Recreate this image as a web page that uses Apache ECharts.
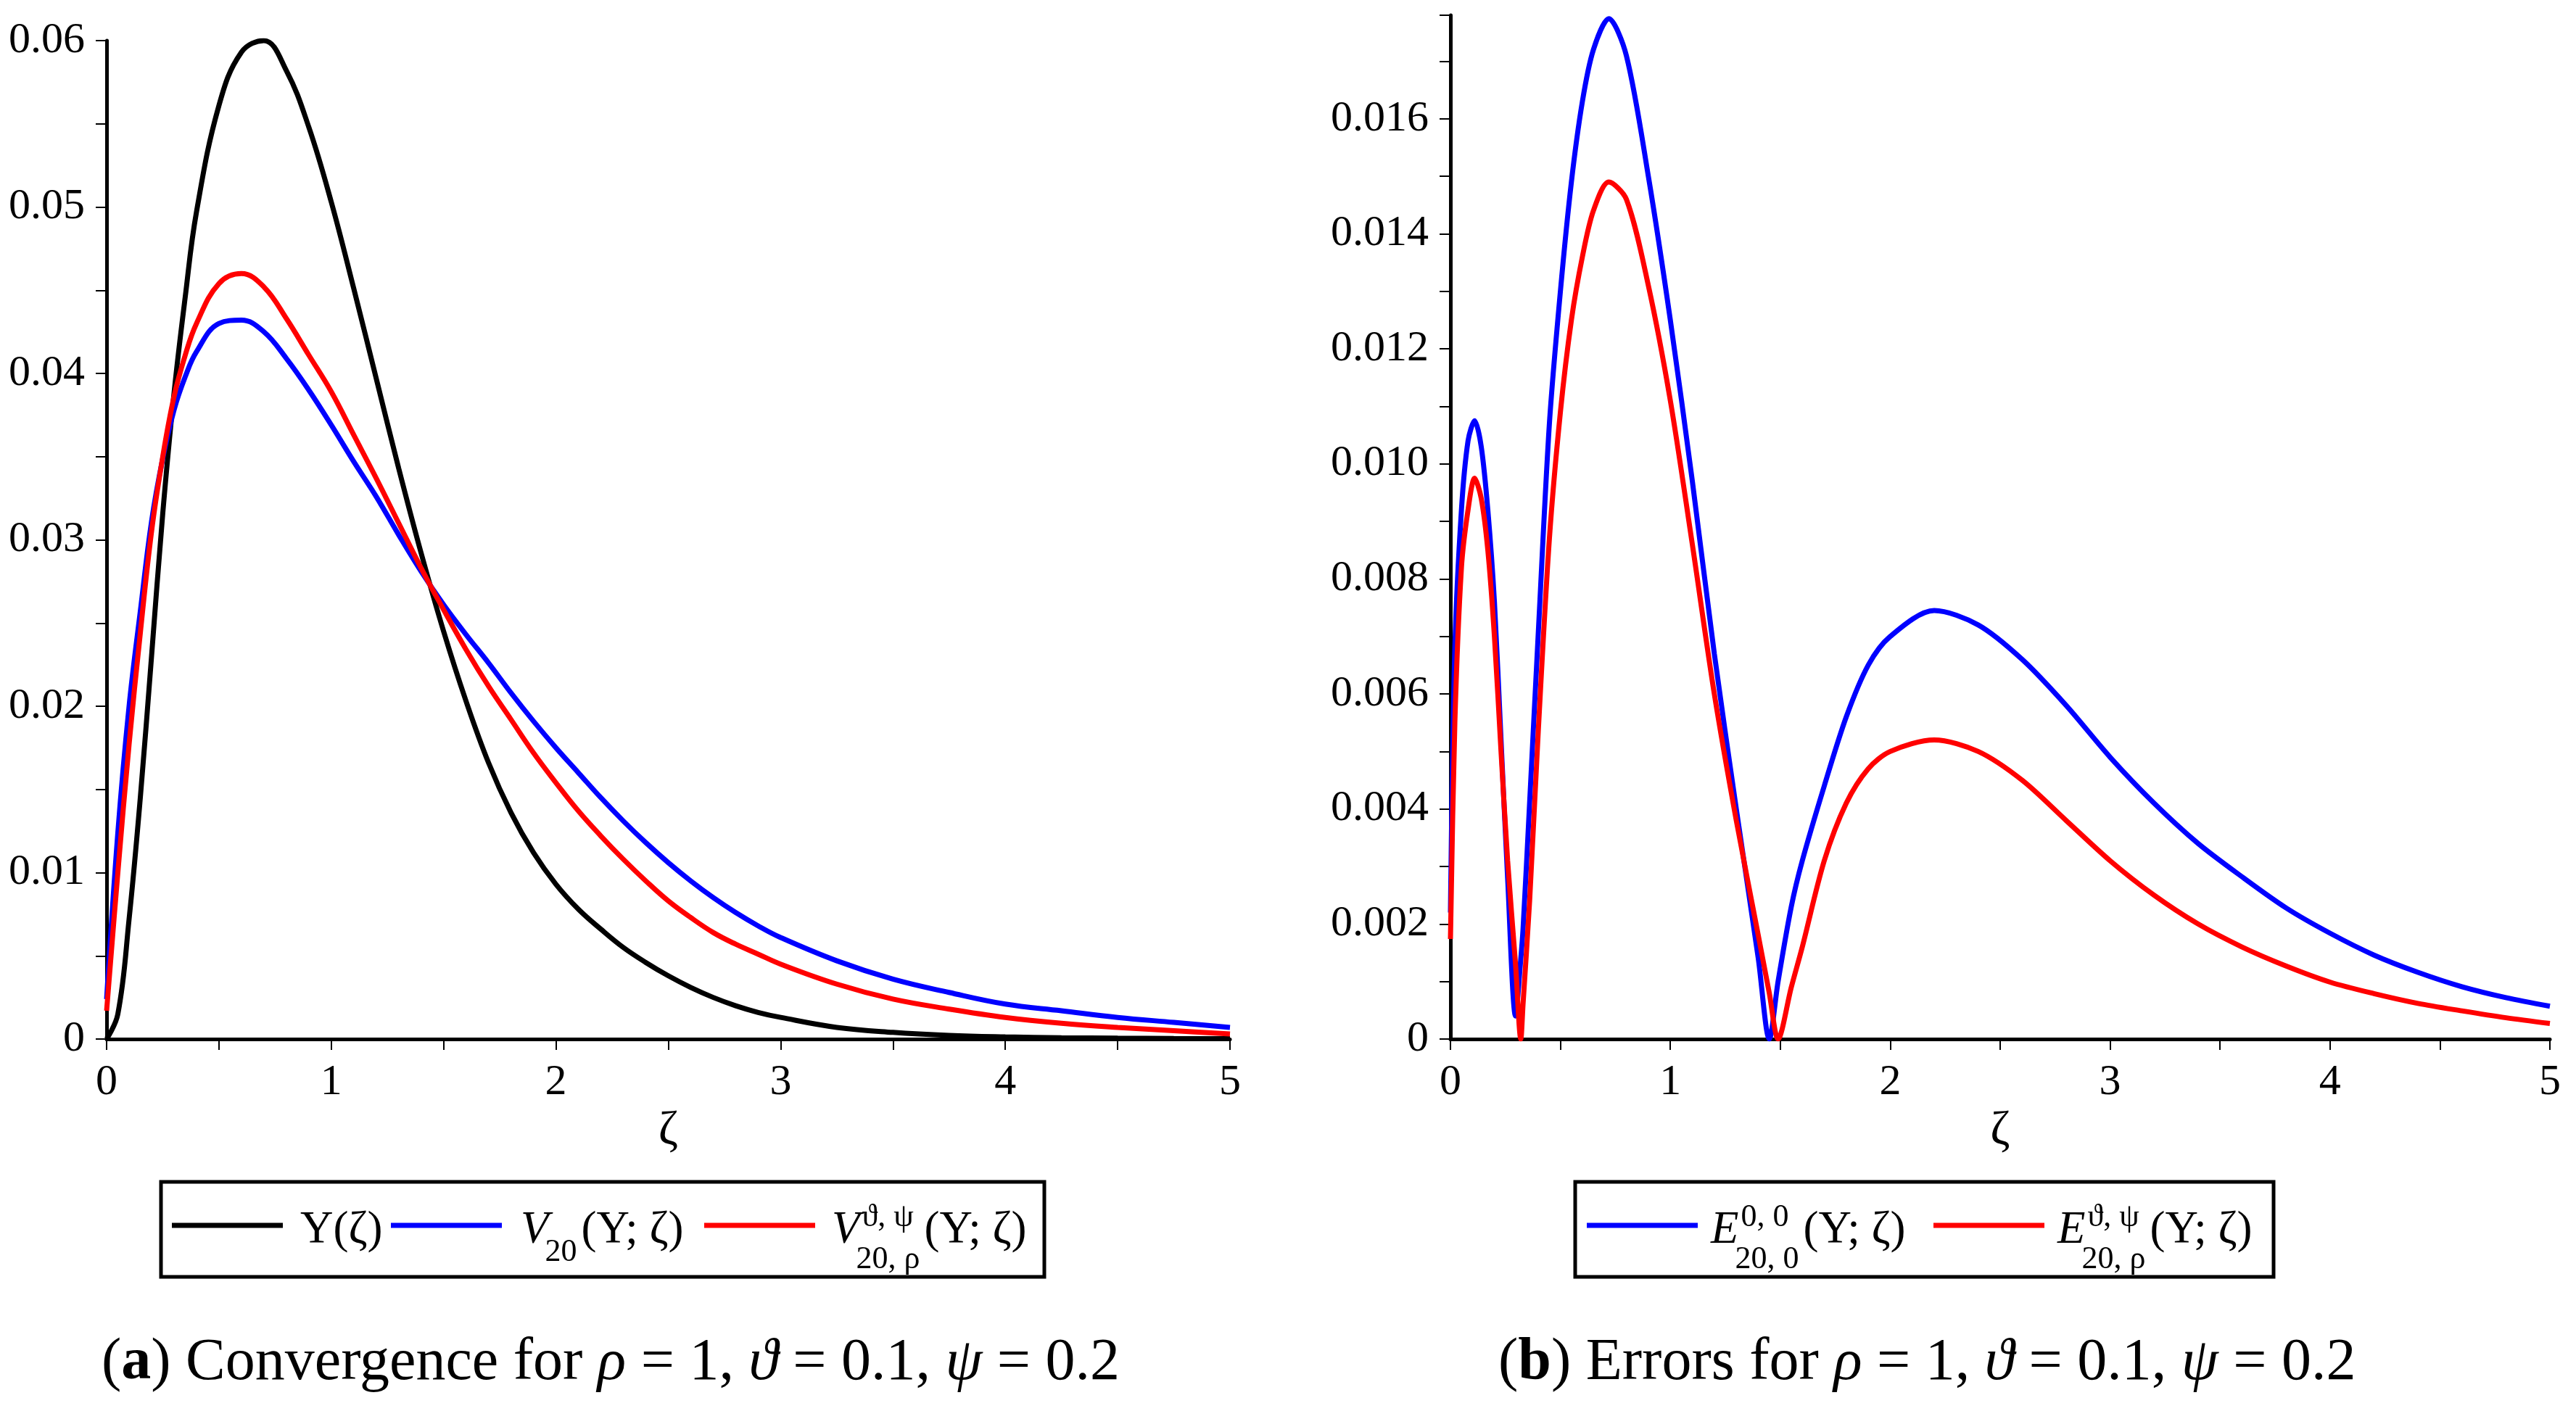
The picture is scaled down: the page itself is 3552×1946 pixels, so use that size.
<!DOCTYPE html>
<html>
<head>
<meta charset="utf-8">
<title>Convergence and errors</title>
<script src="https://cdn.jsdelivr.net/npm/echarts@6/dist/echarts.min.js"></script>
<style>
  html, body { margin: 0; padding: 0; background: #fff; }
  #main { width: 3552px; height: 1946px; }
</style>
</head>
<body>
<div id="main"></div>
<script>
// ---- data ----
// panel (a): convergence
var zetaA = [0, 0.05, 0.1, 0.15, 0.2, 0.25, 0.3, 0.35, 0.4, 0.5, 0.6, 0.7, 0.8, 0.9, 1.0, 1.1, 1.2, 1.3, 1.4, 1.5,
             1.6, 1.7, 1.8, 1.9, 2.0, 2.1, 2.2, 2.3, 2.4, 2.5, 2.6, 2.7, 2.8, 2.9, 3.0, 3.25, 3.5, 3.75, 4.0,
             4.25, 4.5, 4.75, 5.0];
var upsilon = [0, 0.0015, 0.0072, 0.0145, 0.0230, 0.0316, 0.0388, 0.0446, 0.0497, 0.0561, 0.0593, 0.0600, 0.0582,
               0.0548, 0.0503, 0.0451, 0.0397, 0.0343, 0.0292, 0.0245, 0.0203, 0.0166, 0.0136, 0.0112, 0.0093,
               0.0078, 0.0066, 0.0055, 0.0046, 0.0038, 0.0031, 0.0025, 0.0020, 0.0016, 0.0013, 0.0007, 0.0004,
               0.00022, 0.00013, 0.00008, 0.00005, 0.00003, 0.00002];
var v20 = [0.0024, 0.0124, 0.0200, 0.0257, 0.0311, 0.0349, 0.0378, 0.0398, 0.0413, 0.0430, 0.0432, 0.0425, 0.0409,
           0.0390, 0.0369, 0.0347, 0.0326, 0.0303, 0.0281, 0.0261, 0.0243, 0.0226, 0.0208, 0.0191, 0.0175,
           0.0160, 0.0145, 0.0131, 0.0118, 0.0106, 0.0095, 0.0085, 0.0076, 0.0068, 0.0061, 0.0047, 0.0036,
           0.0028, 0.0021, 0.0017, 0.0013, 0.0010, 0.0007];
var v20rho = [0.0017, 0.0100, 0.0177, 0.0244, 0.0305, 0.0350, 0.0386, 0.0411, 0.0430, 0.0454, 0.0460, 0.0452, 0.0433,
              0.0411, 0.0389, 0.0363, 0.0337, 0.0310, 0.0283, 0.0258, 0.0234, 0.0212, 0.0192, 0.0172, 0.0154,
              0.0137, 0.0122, 0.0108, 0.0095, 0.0083, 0.0073, 0.0064, 0.0057, 0.0051, 0.0045, 0.0033, 0.0024,
              0.0018, 0.0013, 0.00095, 0.0007, 0.0005, 0.0003];

// panel (b): errors
var zetaB = [0, 0.02, 0.05, 0.08, 0.11, 0.14, 0.17, 0.2, 0.23, 0.26, 0.296, 0.32, 0.33, 0.36, 0.4, 0.45, 0.5, 0.55,
             0.6, 0.65, 0.72, 0.8, 0.9, 1.0, 1.1, 1.2, 1.3, 1.4, 1.45, 1.49, 1.55, 1.6, 1.7, 1.8, 1.9, 2.0, 2.2,
             2.4, 2.6, 2.8, 3.0, 3.2, 3.4, 3.6, 3.8, 4.0, 4.2, 4.4, 4.6, 4.8, 5.0];
var err00 = [0.0022, 0.0068, 0.0092, 0.0104, 0.01075, 0.0103, 0.0092, 0.0076, 0.0052, 0.0028, 0.0004, 0.0014,
             0.0019, 0.0041, 0.0071, 0.0107, 0.0130, 0.0149, 0.0163, 0.0172, 0.01774, 0.0171, 0.0150, 0.0125,
             0.0097, 0.0067, 0.0040, 0.0014, 0, 0.0010, 0.0023, 0.0031, 0.0044, 0.0056, 0.0065, 0.0070,
             0.00745, 0.0072, 0.0066, 0.0058, 0.0049, 0.0041, 0.0034, 0.00282, 0.00228, 0.00184, 0.00146,
             0.00116, 0.00091, 0.00072, 0.00057];
var errRho = [0.00174, 0.0055, 0.0082, 0.0092, 0.00975, 0.0094, 0.0085, 0.0070, 0.0050, 0.0031, 0.0013, 0,
              0.0006, 0.0024, 0.0054, 0.0087, 0.0109, 0.0125, 0.0136, 0.0144, 0.0149, 0.0146, 0.0131, 0.0111,
              0.0086, 0.0060, 0.0038, 0.0018, 0.0008, 0, 0.0009, 0.0016, 0.0031, 0.0041, 0.0047, 0.0050,
              0.0052, 0.0050, 0.0045, 0.0038, 0.0031, 0.0025, 0.0020, 0.0016, 0.00127, 0.00099, 0.00079,
              0.00062, 0.00049, 0.00037, 0.00027];

var FONT = '"Liberation Serif", "Times New Roman", serif';

function pairs(xs, ys) {
  return xs.map(function (x, i) { return [x, ys[i]]; });
}

// labels only every other tick, the ticks between act as minor ticks
function everyOther(step, digits) {
  return function (v) {
    var k = v / step;
    var r = Math.round(k);
    if (Math.abs(k - r) > 1e-6 || r % 2 !== 0) return '';
    return r === 0 ? '0' : v.toFixed(digits);
  };
}

function xAxisFor(gi) {
  return {
    type: 'value', gridIndex: gi, min: 0, max: 5, interval: 0.5,
    name: 'ζ', nameLocation: 'middle', nameGap: 82,
    nameTextStyle: { fontSize: 66, fontFamily: FONT, color: '#000' },
    axisLine: { show: true, onZero: false, lineStyle: { color: '#000', width: 5 } },
    axisTick: { show: true, inside: false, length: 15, lineStyle: { color: '#000', width: 2 } },
    axisLabel: { formatter: everyOther(0.5, 0), margin: 30, fontSize: 60, fontFamily: FONT, color: '#000' },
    splitLine: { show: false }
  };
}

function yAxisFor(gi, max, step, digits) {
  return {
    type: 'value', gridIndex: gi, min: 0, max: max, interval: step,
    axisLine: { show: true, onZero: false, lineStyle: { color: '#000', width: 5 } },
    axisTick: { show: true, inside: false, length: 15, lineStyle: { color: '#000', width: 2 } },
    axisLabel: { formatter: everyOther(step, digits), margin: 30, fontSize: 60, fontFamily: FONT, color: '#000' },
    splitLine: { show: false }
  };
}

function curve(name, gi, xs, ys, color, smooth) {
  return {
    name: name, type: 'line', xAxisIndex: gi, yAxisIndex: gi,
    data: pairs(xs, ys), showSymbol: false, smooth: smooth,
    lineStyle: { color: color, width: 7 }, itemStyle: { color: color },
    emphasis: { disabled: true }
  };
}

// ---- legend boxes and captions (drawn as graphics) ----
var measure = document.createElement('canvas').getContext('2d');
function tw(str, size, italic) {
  measure.font = (italic ? 'italic ' : '') + size + 'px ' + FONT;
  return measure.measureText(str).width;
}
function txt(str, x, y, size, italic) {
  return {
    type: 'text', x: x, y: y, silent: true,
    style: {
      text: str, fill: '#000', font: (italic ? 'italic ' : '') + size + 'px ' + FONT,
      align: 'left', verticalAlign: 'middle', textAlign: 'left', textVerticalAlign: 'middle'
    }
  };
}

var LINE_Y = 1690, MAIN_Y = 1697, SUP_Y = 1679, SUB_Y = 1737, MAIN = 63, SCRIPT = 44;

function entry(els, color, lineX, textX, parts) {
  els.push({ type: 'line', silent: true,
    shape: { x1: lineX, y1: LINE_Y, x2: lineX + 153, y2: LINE_Y },
    style: { stroke: color, lineWidth: 7 } });
  var x = textX;
  parts.forEach(function (p) {
    if (p.t !== undefined) {
      els.push(txt(p.t, x, MAIN_Y, MAIN, p.it));
      x += tw(p.t, MAIN, p.it);
    } else {
      var w = 0;
      if (p.sup) { els.push(txt(p.sup, x + 3, SUP_Y, SCRIPT)); w = Math.max(w, tw(p.sup, SCRIPT) + 3); }
      if (p.sub) { els.push(txt(p.sub, x - 5, p.subY || SUB_Y, SCRIPT)); w = Math.max(w, tw(p.sub, SCRIPT) - 5); }
      x += w + 6;
    }
  });
}

var gfx = [];
gfx.push({ type: 'rect', silent: true, shape: { x: 222, y: 1630, width: 1218, height: 131 },
  style: { fill: '#fff', stroke: '#000', lineWidth: 5 } });
gfx.push({ type: 'rect', silent: true, shape: { x: 2172, y: 1630, width: 963, height: 131 },
  style: { fill: '#fff', stroke: '#000', lineWidth: 5 } });

entry(gfx, '#000000', 237, 414, [{ t: 'Υ(ζ)' }]);
entry(gfx, '#0000ff', 539, 718, [{ t: 'V', it: true }, { sub: '20', subY: 1727 }, { t: '(Υ; ζ)' }]);
entry(gfx, '#ff0000', 971, 1147, [{ t: 'V', it: true }, { sup: 'ϑ, ψ', sub: '20, ρ' }, { t: '(Υ; ζ)' }]);
entry(gfx, '#0000ff', 2188, 2359, [{ t: 'E', it: true }, { sup: '0, 0', sub: '20, 0' }, { t: '(Υ; ζ)' }]);
entry(gfx, '#ff0000', 2666, 2837, [{ t: 'E', it: true }, { sup: 'ϑ, ψ', sub: '20, ρ' }, { t: '(Υ; ζ)' }]);

var capRich = {
  n: { fontSize: 82, fontFamily: FONT, color: '#000' },
  b: { fontSize: 82, fontFamily: FONT, color: '#000', fontWeight: 'bold' },
  i: { fontSize: 82, fontFamily: FONT, color: '#000', fontStyle: 'italic' }
};
function caption(x, tag, words) {
  return {
    type: 'text', x: x, y: 1880, silent: true,
    style: {
      text: '{n|(}{b|' + tag + '}{n|) ' + words + ' for }{i|ρ}{n| = 1, }{i|ϑ}{n| = 0.1, }{i|ψ}{n| = 0.2}',
      rich: capRich, fill: '#000',
      align: 'left', verticalAlign: 'middle', textAlign: 'left', textVerticalAlign: 'middle'
    }
  };
}
gfx.push(caption(140, 'a', 'Convergence'));
gfx.push(caption(2066, 'b', 'Errors'));

var chart = echarts.init(document.getElementById('main'));
var option = {
  animation: false,
  backgroundColor: '#fff',
  grid: [
    { left: 147, right: 1856, top: 56, bottom: 513 },
    { left: 2000, right: 36, top: 21, bottom: 513 }
  ],
  xAxis: [xAxisFor(0), xAxisFor(1)],
  yAxis: [yAxisFor(0, 0.06, 0.005, 2), yAxisFor(1, 0.0178, 0.001, 3)],
  series: [
    curve('Υ(ζ)', 0, zetaA, upsilon, '#000000', 0.4),
    curve('V20(Υ;ζ)', 0, zetaA, v20, '#0000ff', 0.4),
    curve('V20,ρ(Υ;ζ)', 0, zetaA, v20rho, '#ff0000', 0.4),
    curve('E20,0(Υ;ζ)', 1, zetaB, err00, '#0000ff', 0.3),
    curve('E20,ρ(Υ;ζ)', 1, zetaB, errRho, '#ff0000', 0.3)
  ],
  graphic: gfx
};
chart.setOption(option);
window.addEventListener('resize', function () { chart.resize(); });
</script>
</body>
</html>
